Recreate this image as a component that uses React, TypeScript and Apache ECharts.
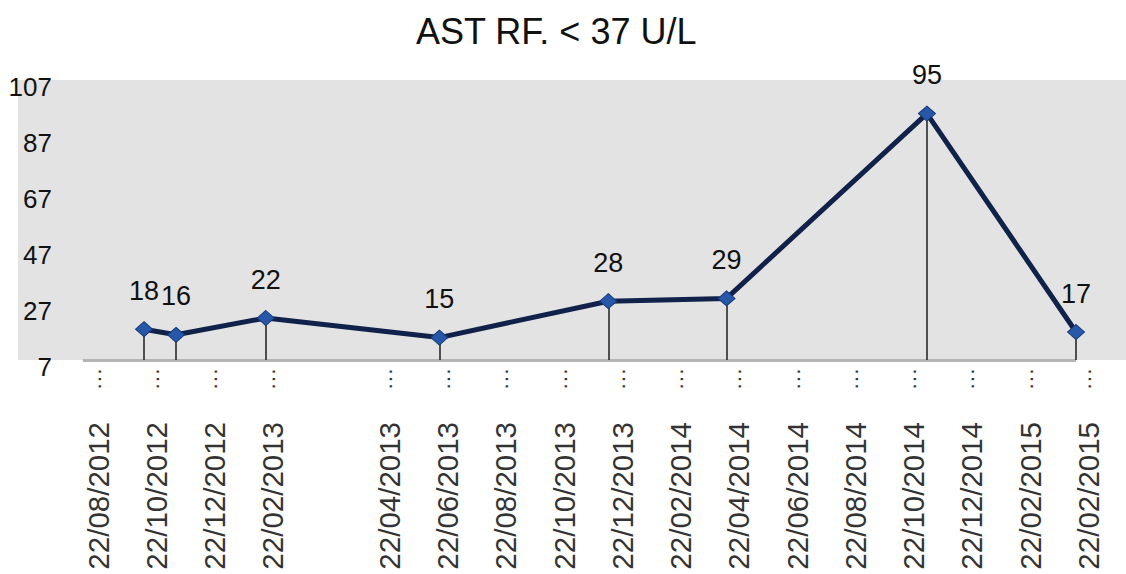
import React, { useEffect, useRef } from "react";
import * as echarts from "echarts";

const titleText = "AST RF. < 37 U/L";
const xLabels = [
  "22/08/2012", "22/10/2012", "22/12/2012", "22/02/2013", "",
  "22/04/2013", "22/06/2013", "22/08/2013", "22/10/2013", "22/12/2013",
  "22/02/2014", "22/04/2014", "22/06/2014", "22/08/2014", "22/10/2014",
  "22/12/2014", "22/02/2015", "22/02/2015",
];
// positions of the samples on the label scale (one unit = one label step)
const samplePos = [0.79, 1.34, 2.88, 5.86, 8.76, 10.79, 14.23, 16.79];
const astValues = [18, 16, 22, 15, 28, 29, 95, 17];
const yTicks = [7, 27, 47, 67, 87, 107];
const axisStartPos = -0.26;

const FONT = "Liberation Sans";

export default function App() {
  const ref = useRef<HTMLDivElement>(null);
  useEffect(() => {
    if (!ref.current) return;
    const chart = echarts.init(ref.current, undefined, { renderer: "svg" });
    const labelIdx = xLabels.map((l, i) => (l ? i : -1)).filter((i) => i >= 0);
    const yMin = yTicks[0];
    const yMax = yTicks[yTicks.length - 1];
    const dropLines = samplePos.map((x, i) => [
      { coord: [x, yMin], lineStyle: { color: "#2a2a2a", width: 1.6, type: "solid" } },
      { coord: [x, astValues[i]] },
    ]);
    const baseLine = [
      { coord: [axisStartPos, yMin], lineStyle: { color: "#b4b4b4", width: 3, type: "solid" } },
      { coord: [samplePos[samplePos.length - 1], yMin] },
    ];
    chart.setOption({
      animation: false,
      backgroundColor: "#ffffff",
      title: {
        text: titleText,
        left: 411,
        top: 8,
        textStyle: { fontFamily: FONT, fontSize: 36, fontWeight: "normal", color: "#111" },
      },
      grid: {
        left: 18,
        right: 0,
        top: 80,
        bottom: 214,
        show: true,
        backgroundColor: "#e3e3e3",
        borderWidth: 0,
      },
      xAxis: {
        type: "value",
        min: -1.3734,
        max: 17.648,
        axisLine: { show: false },
        axisTick: { show: false },
        splitLine: { show: false },
        axisLabel: {
          customValues: labelIdx,
          rotate: 90,
          margin: 8,
          formatter: (v: number) => `{d|${xLabels[Math.round(v)]}}{g|}{e|\u00b7\u00b7\u00b7}`,
          rich: {
            d: { fontFamily: FONT, fontSize: 29.5, color: "#333" },
            g: { width: 32 },
            e: { fontFamily: FONT, fontSize: 22, color: "#333" },
          },
        },
      },
      yAxis: {
        type: "value",
        min: yMin,
        max: yMax,
        axisLine: { show: false },
        axisTick: { show: false },
        splitLine: { show: false },
        axisLabel: {
          customValues: yTicks,
          inside: true,
          align: "right",
          verticalAlign: "top",
          lineHeight: 14,
          margin: 34,
          fontFamily: FONT,
          fontSize: 26,
          color: "#111",
        },
      },
      series: [
        {
          type: "line",
          data: samplePos.map((x, i) => [x, astValues[i]]),
          symbol: "diamond",
          symbolSize: [17, 15],
          lineStyle: { color: "#10214a", width: 5 },
          itemStyle: { color: "#2757a8", borderColor: "#183a78", borderWidth: 1 },
          label: {
            show: true,
            position: "top",
            distance: 17,
            fontFamily: FONT,
            fontSize: 27,
            color: "#111",
            formatter: (p: any) => String(p.value[1]),
          },
          markLine: {
            silent: true,
            symbol: ["none", "none"],
            label: { show: false },
            z: 1,
            data: [baseLine, ...dropLines],
          },
          z: 3,
        },
      ],
    });
    return () => chart.dispose();
  }, []);
  return (
    <div
      ref={ref}
      style={{ position: "absolute", left: 0, top: 0, width: 1126, height: 574 }}
    />
  );
}
